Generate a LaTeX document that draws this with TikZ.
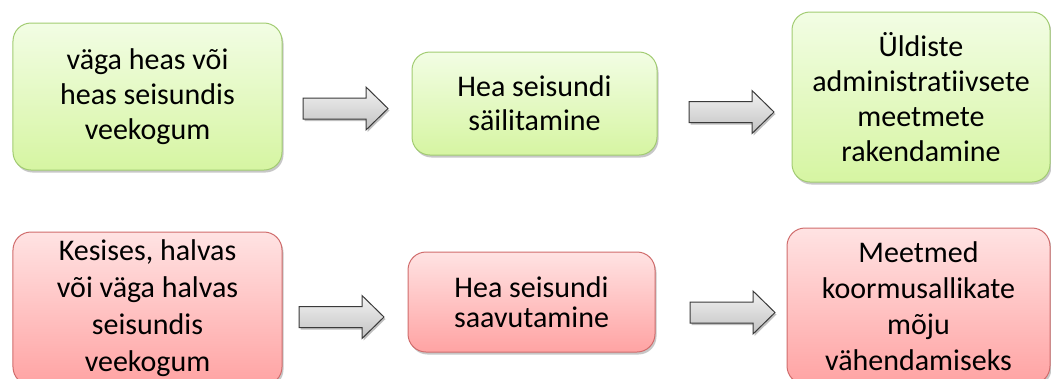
\documentclass[tikz,border=0pt]{standalone}
\usepackage{fontspec}
\setmainfont{Carlito}[Ligatures=NoCommon]
\usetikzlibrary{shadows}
\definecolor{gtop}{HTML}{F2FDE4}
\definecolor{gbot}{HTML}{D6F5A2}
\definecolor{gline}{HTML}{A2CC72}
\definecolor{rtop}{HTML}{FFE3E3}
\definecolor{rbot}{HTML}{FFA3A3}
\definecolor{rline}{HTML}{D06C6C}
\definecolor{atop}{HTML}{F2F2F2}
\definecolor{abot}{HTML}{C2C2C2}
\definecolor{aline}{HTML}{3A3A3A}
\tikzset{
  box/.style={rectangle, rounded corners=18bp, align=center, inner sep=0pt,
    line width=1bp, font=\fontsize{30bp}{35bp}\selectfont,
    drop shadow={shadow xshift=1.5bp, shadow yshift=-2.5bp, opacity=0.22, fill=black}},
  goodbox/.style={box, draw=gline, top color=gtop, bottom color=gbot},
  badbox/.style={box, draw=rline, top color=rtop, bottom color=rbot},
  arrowbody/.style={draw=aline, line width=1bp, top color=atop, bottom color=abot,
    line join=miter,
    drop shadow={shadow xshift=1.5bp, shadow yshift=-2bp, opacity=0.25, fill=black}},
  blockarrow/.pic={
    \path[arrowbody] (0,-10.5) -- (63,-10.5) -- (63,-21.5) -- (85,0)
      -- (63,21.5) -- (63,10.5) -- (0,10.5) -- cycle;
  }
}
\begin{document}
\begin{tikzpicture}[x=1bp, y=-1bp]
\useasboundingbox (0,0) rectangle (1051,378);
\begin{scope}
\clip (0,0) rectangle (1051,378);
% upper row: water bodies in good state
\node[goodbox, minimum width=269bp, minimum height=147bp] (good) at (147.5,96.5)
  {väga heas või\\heas seisundis\\veekogum};
\node[goodbox, minimum width=245bp, minimum height=103bp, font=\fontsize{30bp}{34bp}\selectfont]
  (keep) at (534.5,103.5) {Hea seisundi\\säilitamine};
\node[goodbox, minimum width=258bp, minimum height=170bp] (admin) at (921,97)
  {Üldiste\\administratiivsete\\meetmete\\rakendamine};
% lower row: water bodies in moderate or worse state
\node[badbox, minimum width=269bp, minimum height=153bp, font=\fontsize{30bp}{37bp}\selectfont]
  (bad) at (147.5,308.5) {Kesises, halvas\\või väga halvas\\seisundis\\veekogum};
\node[badbox, minimum width=247bp, minimum height=100bp, font=\fontsize{30bp}{30bp}\selectfont]
  (reach) at (531.5,302) {Hea seisundi\\saavutamine};
\node[badbox, minimum width=263bp, minimum height=156bp, font=\fontsize{30bp}{36bp}\selectfont]
  (measures) at (918.5,306) {Meetmed\\koormusallikate\\mõju\\vähendamiseks};
% block arrows between the boxes
\pic at (303,108.5) {blockarrow};
\pic at (689,112) {blockarrow};
\pic at (299,317) {blockarrow};
\pic at (690,312.5) {blockarrow};
\end{scope}
\end{tikzpicture}
\end{document}
